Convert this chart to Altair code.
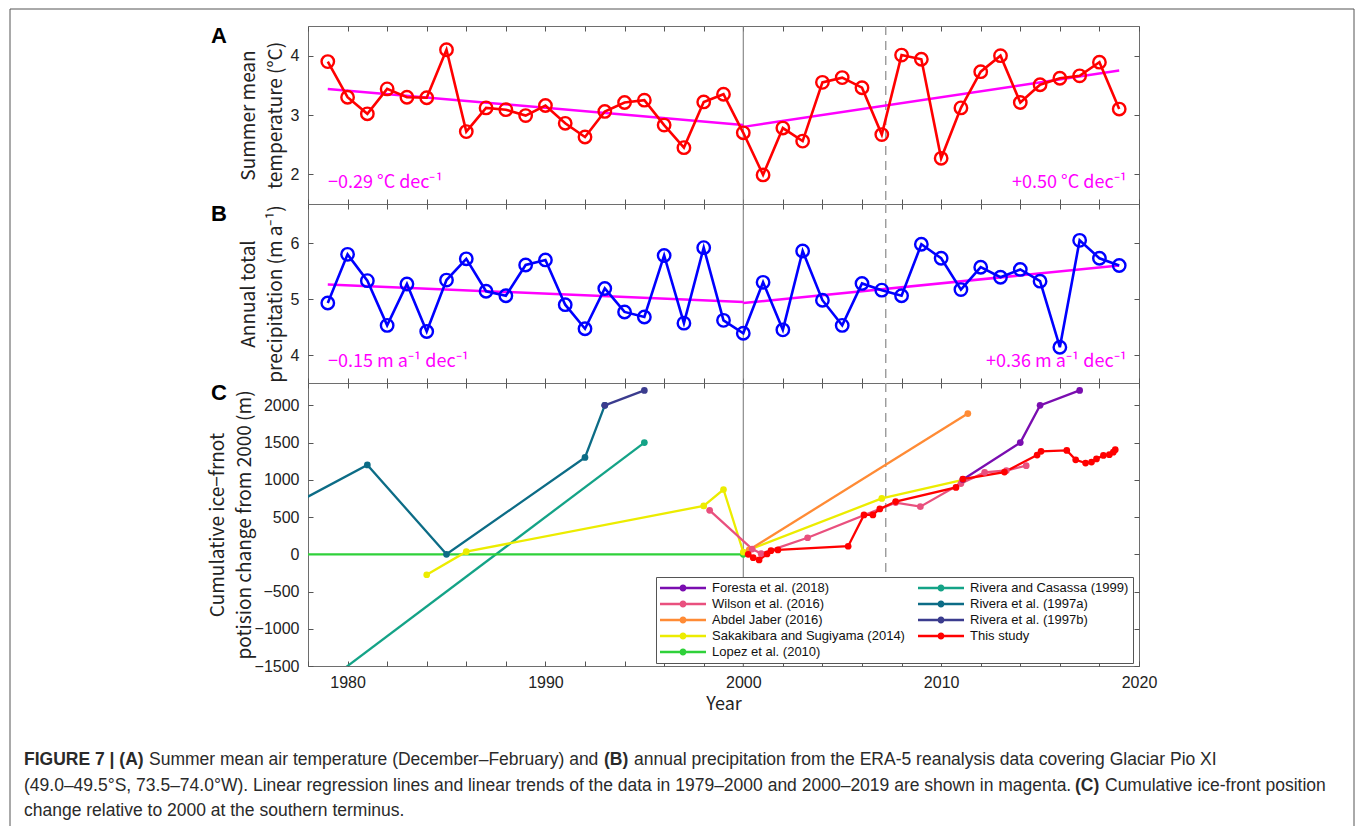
import altair as alt
import pandas as pd

# ---------------- data ----------------
years = list(range(1979, 2020))
temperature = [3.90, 3.30, 3.02, 3.44, 3.30, 3.29, 4.10, 2.72, 3.12, 3.09,
               2.99, 3.16, 2.86, 2.63, 3.06, 3.21, 3.25, 2.83, 2.45, 3.22,
               3.35, 2.70, 1.99, 2.78, 2.56, 3.55, 3.63, 3.46, 2.67, 4.01,
               3.94, 2.27, 3.12, 3.73, 4.00, 3.21, 3.51, 3.62, 3.66, 3.89, 3.10]
precipitation = [4.93, 5.80, 5.33, 4.53, 5.27, 4.42, 5.34, 5.72, 5.14, 5.06,
                 5.61, 5.70, 4.90, 4.47, 5.19, 4.77, 4.68, 5.78, 4.57, 5.92,
                 4.62, 4.39, 5.30, 4.45, 5.86, 4.98, 4.53, 5.28, 5.16, 5.06,
                 5.98, 5.73, 5.17, 5.57, 5.39, 5.53, 5.32, 4.14, 6.05, 5.73, 5.60]

trend_years = [1979, 2000, 2000, 2019]
trend_periods = ["1979–2000", "1979–2000", "2000–2019", "2000–2019"]
temperature_trend = [3.44, 2.83, 2.80, 3.75]
precipitation_trend = [5.26, 4.95, 4.93, 5.60]
temperature_rates = ["−0.29 °C dec⁻¹", "+0.50 °C dec⁻¹"]
precipitation_rates = ["−0.15 m a⁻¹ dec⁻¹", "+0.36 m a⁻¹ dec⁻¹"]

solid_line_year = [2000]
dashed_line_year = [2007.2]
panel_letters = ["A", "B", "C"]

x_tick_years = list(range(1978, 2021, 2))
temperature_ticks = [2, 3, 4]
precipitation_ticks = [4, 5, 6]
front_ticks = [-1500, -1000, -500, 0, 500, 1000, 1500, 2000]

rivera97a_years = [1975, 1981, 1985, 1992, 1993]
rivera97a_values = [350, 1200, 0, 1300, 2000]
rivera97b_years = [1993, 1995]
rivera97b_values = [2000, 2200]
casassa_years = [1975, 1995]
casassa_values = [-2500, 1500]
lopez_years = [1975, 2000]
lopez_values = [0, 0]
sakakibara_years = [1984, 1986, 1998, 1999, 2000, 2007, 2011.1]
sakakibara_values = [-275, 35, 650, 870, 30, 750, 1000]
abdel_years = [2000.3, 2011.35]
abdel_values = [60, 1890]
wilson_years = [1998.3, 2000.45, 2000.9, 2003.25, 2007.7, 2008.95, 2011.0, 2012.2, 2013.3, 2014.3]
wilson_values = [590, 70, 10, 222, 694, 640, 950, 1100, 1125, 1190]
foresta_years = [2011.1, 2014.0, 2015.0, 2017.0]
foresta_values = [1005, 1500, 2000, 2200]
study_years = [2000.25, 2000.5, 2000.8, 2001.2, 2001.4, 2001.75, 2005.3, 2006.1,
               2006.55, 2006.9, 2007.7, 2010.75, 2011.1, 2013.2, 2014.85, 2015.05,
               2016.35, 2016.8, 2017.3, 2017.6, 2017.85, 2018.2, 2018.5, 2018.7, 2018.8]
study_values = [0, -45, -76, 4, 49, 58, 108, 529, 529, 609, 708, 898, 1010, 1104,
                1332, 1382, 1395, 1268, 1225, 1238, 1281, 1328, 1337, 1371, 1405]

series_in_draw_order = [
    ("Rivera et al. (1997a)", rivera97a_years, rivera97a_values),
    ("Rivera et al. (1997b)", rivera97b_years, rivera97b_values),
    ("Rivera and Casassa (1999)", casassa_years, casassa_values),
    ("Lopez et al. (2010)", lopez_years, lopez_values),
    ("Sakakibara and Sugiyama (2014)", sakakibara_years, sakakibara_values),
    ("Abdel Jaber (2016)", abdel_years, abdel_values),
    ("Wilson et al. (2016)", wilson_years, wilson_values),
    ("Foresta et al. (2018)", foresta_years, foresta_values),
    ("This study", study_years, study_values),
]
legend_order = ["Foresta et al. (2018)", "Wilson et al. (2016)", "Abdel Jaber (2016)",
                "Sakakibara and Sugiyama (2014)", "Lopez et al. (2010)",
                "Rivera and Casassa (1999)", "Rivera et al. (1997a)",
                "Rivera et al. (1997b)", "This study"]
legend_colors = ["#7a0db0", "#e9507e", "#ff8b35", "#ecec00", "#2fd13a",
                 "#14a387", "#0c6c86", "#3b3c8e", "#ff0000"]

caption_line1 = ["FIGURE 7 | (A)", "Summer mean air temperature (December–February) and", "(B)",
                 "annual precipitation from the ERA-5 reanalysis data covering Glaciar Pio XI"]
caption_line1_bold = [True, False, True, False]
caption_line2 = ["(49.0–49.5°S, 73.5–74.0°W). Linear regression lines and linear trends of the data in 1979–2000 and 2000–2019 are shown in magenta.",
                 "(C)", "Cumulative ice-front position"]
caption_line2_bold = [False, True, False]
caption_line3 = ["change relative to 2000 at the southern terminus."]
caption_line3_bold = [False]

# ---------------- styling / layout ----------------
W = 831
HA, HB, HC = 178, 179, 283
NUM_FONT = "Liberation Sans"
TITLE_FONT = "Noto Sans CJK JP"
TXT = "#222222"
TICK = "#555555"
MAGENTA = "#ff00ff"
XSCALE = alt.Scale(domain=[1978, 2020], nice=False, zero=False)
COLOR_OF = dict(zip(legend_order, legend_colors))


def axis_x_bottom(show_labels):
    kw = dict(orient="bottom", values=x_tick_years, offset=-5, tickSize=5, domain=False,
              grid=False, tickColor=TICK, tickWidth=1)
    if show_labels:
        kw.update(format="d", labelExpr="datum.value % 10 == 0 ? datum.label : ''",
                  labelPadding=8, labelFontSize=16, labelFont=NUM_FONT, labelColor=TXT,
                  labelFlush=False, labelOverlap=False,
                  title="Year", titleFontSize=18, titleFont=TITLE_FONT,
                  titleFontWeight="normal", titleColor=TXT, titlePadding=5)
    else:
        kw.update(labels=False, title="")
    return alt.Axis(**kw)


def axis_x_top():
    return alt.Axis(orient="top", values=x_tick_years, offset=-5, tickSize=5, domain=False,
                    grid=False, tickColor=TICK, labels=False, title="")


def axis_y_left(values, title, title_pad):
    return alt.Axis(orient="left", values=values, format="d", offset=-5, tickSize=5,
                    domain=False, grid=False, tickColor=TICK, labelPadding=9,
                    labelFontSize=16, labelFont=NUM_FONT, labelColor=TXT, labelFlush=False,
                    labelOverlap=False, title=title, titleFontSize=19, titleFont=TITLE_FONT,
                    titleFontWeight="normal", titleColor=TXT, titleLineHeight=27,
                    titlePadding=title_pad)


def axis_y_right(values):
    return alt.Axis(orient="right", values=values, offset=-5, tickSize=5, domain=False,
                    grid=False, tickColor=TICK, labels=False, title="")


def xq(axis):
    return alt.X("year:Q", scale=XSCALE, axis=axis)


def vertical_lines():
    solid = alt.Chart(pd.DataFrame({"year": solid_line_year})).mark_rule(
        color="#808080", strokeWidth=1.1).encode(x=xq(None))
    dashed = alt.Chart(pd.DataFrame({"year": dashed_line_year})).mark_rule(
        color="#9a9a9a", strokeWidth=1.4, strokeDash=[9, 6]).encode(x=xq(None))
    return [solid, dashed]


def letter_mark(letter):
    return alt.Chart(pd.DataFrame({"letter": [letter]})).mark_text(
        fontSize=22, fontWeight="bold", font=NUM_FONT, align="center", baseline="middle",
        color="black").encode(x=alt.value(-89), y=alt.value(10), text="letter:N")


def climate_panel(values, trend_values, rates, color, ydomain, yticks, ytitle, letter, height):
    df = pd.DataFrame({"year": years, "value": values})
    tdf = pd.DataFrame({"year": trend_years, "value": trend_values, "period": trend_periods})
    ys = alt.Scale(domain=ydomain, nice=False, zero=False)
    trend = alt.Chart(tdf).mark_line(color=MAGENTA, strokeWidth=2.5).encode(
        x=xq(axis_x_top()), y=alt.Y("value:Q", scale=ys, axis=axis_y_right(yticks)),
        detail="period:N")
    line = alt.Chart(df).mark_line(color=color, strokeWidth=2.6).encode(
        x=xq(axis_x_bottom(False)),
        y=alt.Y("value:Q", scale=ys, axis=axis_y_left(yticks, ytitle, 5)))
    pts = alt.Chart(df).mark_point(shape="circle", filled=False, size=155, strokeWidth=2.4,
                                   color=color, opacity=1).encode(
        x=xq(None), y=alt.Y("value:Q", scale=ys, axis=None))
    left_txt = alt.Chart(pd.DataFrame({"label": [rates[0]]})).mark_text(
        font=TITLE_FONT, fontSize=18, color=MAGENTA, align="left", baseline="middle").encode(
        x=alt.value(20), y=alt.value(height - 21), text="label:N")
    right_txt = alt.Chart(pd.DataFrame({"label": [rates[1]]})).mark_text(
        font=TITLE_FONT, fontSize=18, color=MAGENTA, align="right", baseline="middle").encode(
        x=alt.value(W - 12), y=alt.value(height - 21), text="label:N")
    return alt.layer(*vertical_lines(), trend, line, pts, left_txt, right_txt,
                     letter_mark(letter)).resolve_axis(
        x="independent", y="independent").properties(width=W, height=height)


panelA = climate_panel(temperature, temperature_trend, temperature_rates, "#ff0000",
                       [1.5, 4.5], temperature_ticks, ["Summer mean", "temperature (°C)"],
                       panel_letters[0], HA)
panelB = climate_panel(precipitation, precipitation_trend, precipitation_rates, "#0000ff",
                       [3.5, 6.7], precipitation_ticks, ["Annual total", "precipitation (m a⁻¹)"],
                       panel_letters[1], HB)

# ---------------- panel C ----------------
rows = []
for name, ys_, vs_ in series_in_draw_order:
    for y_, v_ in zip(ys_, vs_):
        rows.append({"series": name, "year": y_, "value": v_})
front_df = pd.DataFrame(rows)

yC = alt.Scale(domain=[-1500, 2300], nice=False, zero=False)
color_scale = alt.Scale(domain=legend_order, range=legend_colors)
LEGEND_SYMBOL = ("M-3.286,-0.18H3.286V0.18H-3.286Z "
                 "M-0.5,0A0.5,0.5,0,1,1,0.5,0A0.5,0.5,0,1,1,-0.5,0Z")

front_line_layers = []
for i, (name, ys_, vs_) in enumerate(series_in_draw_order):
    sdf = pd.DataFrame({"year": ys_, "value": vs_})
    if i == 0:
        enc = dict(x=xq(axis_x_bottom(True)),
                   y=alt.Y("value:Q", scale=yC, axis=axis_y_left(
                       front_ticks, ["Cumulative ice−frnot", "potision change from 2000 (m)"], 0)))
    else:
        enc = dict(x=xq(None), y=alt.Y("value:Q", scale=yC, axis=None))
    front_line_layers.append(
        alt.Chart(sdf).mark_line(color=COLOR_OF[name], strokeWidth=2.3, clip=True).encode(**enc))

front_points = alt.Chart(front_df).mark_circle(size=45, opacity=1, clip=True).encode(
    x=xq(axis_x_top()),
    y=alt.Y("value:Q", scale=yC, axis=axis_y_right(front_ticks)),
    color=alt.Color("series:N", scale=color_scale, legend=alt.Legend(
        title=None, orient="none", legendX=348, legendY=194, columns=2,
        fillColor="white", strokeColor="#555555", padding=4, columnPadding=12,
        rowPadding=2, labelFontSize=13, labelFont=NUM_FONT, labelColor="#111111",
        labelOffset=22, symbolOffset=16, symbolType=LEGEND_SYMBOL, symbolSize=196,
        symbolStrokeWidth=0, labelLimit=400)))

panelC = alt.layer(*vertical_lines(), *front_line_layers, front_points,
                   letter_mark(panel_letters[2])).resolve_axis(
    x="independent", y="independent").properties(width=W, height=HC)

# ---------------- caption + frame ----------------
CAP_X0 = 307
CAP_Y0 = 665
caption_layers = []
line_specs = [
    (caption_line1, caption_line1_bold, [23, 148, 603, 633], 759),
    (caption_line2, caption_line2_bold, [23, 1074, 1104], 785),
    (caption_line3, caption_line3_bold, [23], 810),
]
for texts, bolds, xs, ypos in line_specs:
    for t, b, xpos in zip(texts, bolds, xs):
        caption_layers.append(
            alt.Chart(pd.DataFrame({"t": [t]})).mark_text(
                font=NUM_FONT, fontSize=17.5, fontWeight="bold" if b else "normal",
                color="#2a2a2a", align="left", baseline="middle").encode(
                x=alt.value(xpos - CAP_X0), y=alt.value(ypos - CAP_Y0), text="t:N"))

frame_df = pd.DataFrame({"k": [0]})
FRAME = "#555555"
frame_top = alt.Chart(frame_df).mark_rule(color=FRAME, strokeWidth=1).encode(
    x=alt.value(9 - CAP_X0), x2=alt.value(1353 - CAP_X0), y=alt.value(8 - CAP_Y0))
frame_left = alt.Chart(frame_df).mark_rule(color=FRAME, strokeWidth=1).encode(
    x=alt.value(9 - CAP_X0), y=alt.value(8 - CAP_Y0), y2=alt.value(160))
frame_right = alt.Chart(frame_df).mark_rule(color=FRAME, strokeWidth=1).encode(
    x=alt.value(1353 - CAP_X0), y=alt.value(8 - CAP_Y0), y2=alt.value(160))

caption = alt.layer(frame_top, frame_left, frame_right, *caption_layers).properties(
    width=W, height=160, view=alt.ViewBackground(stroke="transparent"))

chart = alt.vconcat(panelA, panelB, panelC, caption, spacing=0, bounds="flush").resolve_scale(
    color="independent").properties(
    padding={"left": 9, "top": 8, "right": 0, "bottom": 0}, background="white").configure_view(
    stroke="#6e6e6e", strokeWidth=1)

chart.save("out.html", embed_options={"renderer": "svg", "actions": False})
